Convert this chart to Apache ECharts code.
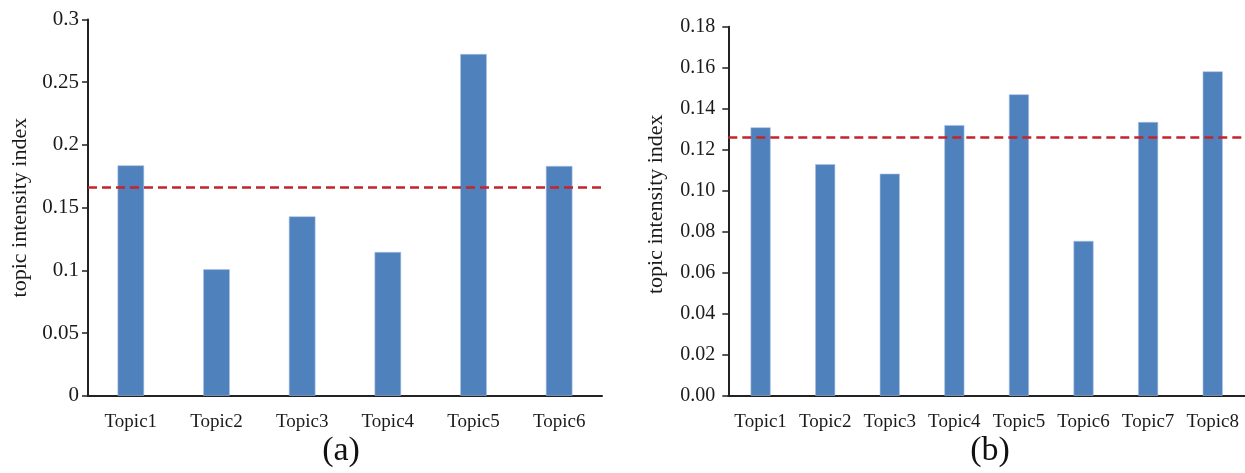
<!DOCTYPE html>
<html>
<head>
<meta charset="utf-8">
<script src="https://cdn.jsdelivr.net/npm/echarts@6/dist/echarts.min.js"></script>
<style>
html,body{margin:0;padding:0;background:#fff;}
#chart{width:1245px;height:473px;}
</style>
</head>
<body>
<div id="chart"></div>
<script>
// ---- data ----
const categoriesA = ['Topic1','Topic2','Topic3','Topic4','Topic5','Topic6'];
const valuesA = [0.1837, 0.1008, 0.1430, 0.1146, 0.2725, 0.1832];
const refLineA = 0.1663;
const yMaxA = 0.3, yStepA = 0.05;

const categoriesB = ['Topic1','Topic2','Topic3','Topic4','Topic5','Topic6','Topic7','Topic8'];
const valuesB = [0.1309, 0.1129, 0.1083, 0.1320, 0.1470, 0.0755, 0.1335, 0.1582];
const refLineB = 0.1259;
const yMaxB = 0.18, yStepB = 0.02;

const yAxisTitle = 'topic intensity index';
const captions = ['(a)', '(b)'];

// ---- styles ----
const FONT = '"Liberation Serif", "Times New Roman", serif';
const BAR = '#4f81bd';
const RED = '#c4252b';
const INK = '#1a1a1a';

function xAxisCfg(cats, idx){
  return {
    type:'category', gridIndex: idx, data: cats,
    axisLine:{lineStyle:{color:'#222', width:2}},
    axisTick:{show:false},
    axisLabel:{color:INK, fontFamily:FONT, fontSize:19, margin:17, interval:0}
  };
}
function yAxisCfg(idx, max, step, fmt, fs, gap, margin, namePad){
  return {
    type:'value', gridIndex: idx, min:0, max:max, interval:step,
    name: yAxisTitle, nameLocation:'middle', nameGap: gap,
    nameTextStyle:{color:INK, fontFamily:FONT, fontSize:22, padding:namePad},
    axisLine:{show:true, lineStyle:{color:'#222', width:2}},
    axisTick:{show:true, length:6, lineStyle:{color:'#222', width:1.5}},
    splitLine:{show:false},
    axisLabel:{color:INK, fontFamily:FONT, fontSize:fs, margin:margin, formatter:fmt}
  };
}
function barSeries(vals, idx, ref){
  return {
    type:'bar', xAxisIndex:idx, yAxisIndex:idx, data: vals,
    barWidth:'31%',
    itemStyle:{color:BAR, borderColor:'#a9c1e0', borderWidth:0.6},
    silent:true,
    markLine:{
      silent:true, precision:4, symbol:['none','none'], label:{show:false},
      lineStyle:{color:RED, width:2.6, type:[9,5]},
      data:[{yAxis: ref}]
    }
  };
}

const chart = echarts.init(document.getElementById('chart'), null, {renderer:'canvas'});
chart.setOption({
  animation:false,
  backgroundColor:'#fff',
  grid:[
    {left:88, top:19.5, width:514, height:376.2},
    {left:728.3, top:26.7, width:518, height:369}
  ],
  xAxis:[xAxisCfg(categoriesA,0), xAxisCfg(categoriesB,1)],
  yAxis:[
    yAxisCfg(0, yMaxA, yStepA, v => String(+v.toFixed(2)), 21, 57, 9, [0,0,0,0]),
    yAxisCfg(1, yMaxB, yStepB, v => v.toFixed(2), 20, 61, 13, [0,0,0,14])
  ],
  series:[barSeries(valuesA,0,refLineA), barSeries(valuesB,1,refLineB)],
  graphic:[
    {type:'text', x:341, y:451, style:{text:captions[0], font:'34px '+FONT, fill:'#111', align:'center', verticalAlign:'middle'}},
    {type:'text', x:990, y:451, style:{text:captions[1], font:'34px '+FONT, fill:'#111', align:'center', verticalAlign:'middle'}}
  ]
});
</script>
</body>
</html>
